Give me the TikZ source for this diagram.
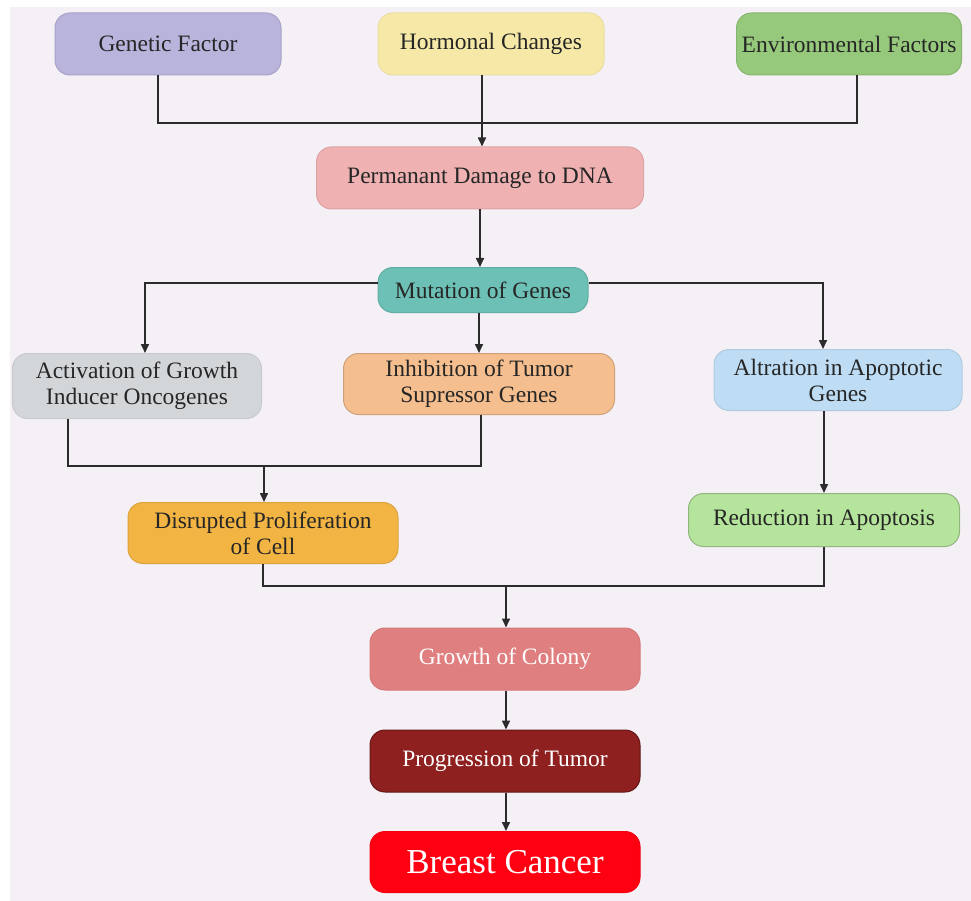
\documentclass[tikz,border=0pt]{standalone}
\usepackage{fontspec}
\setmainfont{Liberation Serif}
\usetikzlibrary{arrows.meta}

\definecolor{bgcol}{HTML}{F5F0F6}
\definecolor{gencol}{HTML}{B9B4DC}
\definecolor{hormcol}{HTML}{F6E9A8}
\definecolor{envcol}{HTML}{96C97C}
\definecolor{dnacol}{HTML}{EFB1B1}
\definecolor{mutcol}{HTML}{6CC0B5}
\definecolor{actcol}{HTML}{D3D6D9}
\definecolor{inhcol}{HTML}{F5BE8E}
\definecolor{altcol}{HTML}{BEDDF4}
\definecolor{discol}{HTML}{F2B543}
\definecolor{redcol}{HTML}{B5E49C}
\definecolor{growcol}{HTML}{E07F80}
\definecolor{progcol}{HTML}{8E2020}
\definecolor{bccol}{HTML}{FF0012}
\definecolor{linecol}{HTML}{2B2B2B}

\tikzset{
  box/.style={rectangle,rounded corners=15pt,align=center,inner sep=0pt,
    font=\fontsize{23.5}{26}\selectfont,text=black!85,line width=1pt},
  line/.style={draw=linecol,line width=1.6pt},
  arr/.style={line,-{Triangle[length=9pt,width=8pt]}}
}

\begin{document}
\begin{tikzpicture}[x=1pt,y=-1pt]
\fill [white] (0,0) rectangle (971,901);
\fill [bgcol] (10,7) rectangle (971,901);

\node [box,fill=gencol,draw=gencol!90!black,minimum width=226,minimum height=62] (gen) at(168,44){Genetic Factor};
\node [box,fill=hormcol,draw=hormcol!95!black,minimum width=226,minimum height=62] (horm) at(491,44){Hormonal Changes};
\node [box,fill=envcol,draw=envcol!90!black,minimum width=225,minimum height=62] (env) at(849,44){Environmental Factors};
\node [box,fill=dnacol,draw=dnacol!92!black,minimum width=327,minimum height=62] (dna) at(480,178){Permanant Damage to DNA};
\node [box,fill=mutcol,draw=mutcol!90!black,minimum width=210,minimum height=45] (mut) at(483,290){Mutation of Genes};
\node [box,fill=actcol,draw=actcol!95!black,minimum width=249,minimum height=65] (act) at(137,386){Activation of Growth\\Inducer Oncogenes};
\node [box,fill=inhcol,draw=inhcol!85!black,minimum width=271,minimum height=61] (inh) at(479,384){Inhibition of Tumor\\Supressor Genes};
\node [box,fill=altcol,draw=altcol!92!black,minimum width=248,minimum height=61] (alt) at(838,380){Altration in Apoptotic\\Genes};
\node [box,fill=discol,draw=discol!90!black,minimum width=270,minimum height=61] (dis) at(263,533){Disrupted Proliferation\\of Cell};
\node [box,fill=redcol,draw=redcol!80!black,minimum width=271,minimum height=53] (red) at(824,520){Reduction in Apoptosis};
\node [box,fill=growcol,draw=growcol!95!black,text=white,minimum width=270,minimum height=62] (grow) at(505,659){Growth of Colony};
\node [box,fill=progcol,draw=progcol!70!black,text=white,minimum width=270,minimum height=62] (prog) at(505,761){Progression of Tumor};
\node [box,fill=bccol,draw=bccol!95!black,text=white,minimum width=270,minimum height=61,font=\fontsize{35}{40}\selectfont] (bc) at(505,862){Breast Cancer};

\coordinate (m1) at(482,123);
\coordinate (m2) at(264,466);
\coordinate (m3) at(506,586);

\draw [line] ([xshift=-10]gen.south) |- (m1) -| ([xshift=8]env.south);
\draw [arr] (horm.south -| m1) -- (dna.north -| m1);
\draw [arr] (dna.south) -- (dna.south |- mut.north);

\draw [arr] ([yshift=7]mut.west) -| ([xshift=8]act.north);
\draw [arr] ([yshift=7]mut.east) -| ([xshift=-15]alt.north);
\draw [arr] (mut.south -| inh) -- (inh.north);

\draw [line] ([xshift=-69]act.south) |- (m2) -| ([xshift=2]inh.south);
\draw [arr] (m2) -- (dis.north -| m2);
\draw [arr] (alt.south -| red) -- (red.north);

\draw [line] (dis.south) |- (m3) -| (red.south);
\draw [arr] (m3) -- (grow.north -| m3);
\draw [arr] (grow.south -| m3) -- (prog.north -| m3);
\draw [arr] (prog.south -| m3) -- (bc.north -| m3);
\end{tikzpicture}
\end{document}
